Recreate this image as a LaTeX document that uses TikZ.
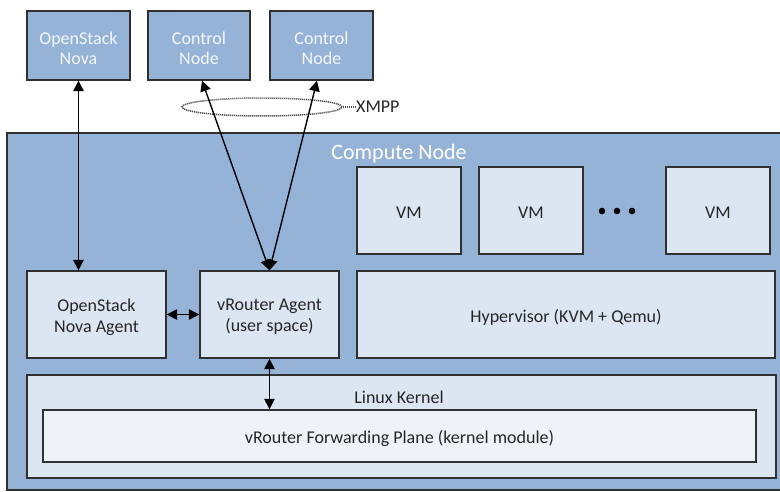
\documentclass[tikz,border=0pt]{standalone}
\usepackage{fontspec}
\setmainfont{Carlito}
\usetikzlibrary{arrows.meta,calc,shapes.geometric}
\definecolor{paneblue}{HTML}{95B3D7}
\definecolor{boxlight}{HTML}{DCE6F2}
\definecolor{boxpale}{HTML}{EEF2F9}
\definecolor{edge}{HTML}{303030}
\definecolor{hinttext}{HTML}{F4F6FA}
\definecolor{ringgray}{HTML}{505050}
\tikzset{
  topbox/.style={draw=edge, line width=1.4pt, fill=paneblue, inner sep=0pt},
  innerbox/.style={draw=edge, line width=1.4pt, fill=boxlight, inner sep=0pt},
  toptext/.style={text=hinttext, align=center, inner sep=0pt, yshift=-2.5pt,
    font=\fontsize{18}{20}\selectfont},
  innertext/.style={text=black!85, align=center, inner sep=0pt, yshift=-2.5pt,
    font=\fontsize{18}{21}\selectfont},
  link/.style={line width=1.4pt, {Triangle[length=10.5pt,width=10.5pt]}-{Triangle[length=10.5pt,width=10.5pt]}},
  ring/.style={draw=ringgray, line width=1.5pt, dash pattern=on 1.2pt off 0.8pt},
}
\begin{document}
\begin{tikzpicture}[x=1pt,y=-1pt]
\useasboundingbox (0,0) rectangle (780,492);
\fill[white] (0,0) rectangle (780,492);

% external services
\node[topbox, minimum width=103pt, minimum height=69pt] (nova) at (78.5,45.5) {};
\node[toptext] (novatxt) at (nova.center) {OpenStack\\Nova};
\node[topbox, minimum width=102pt, minimum height=69pt] (ctlA) at (199,45.5) {};
\node[toptext] (ctlAtxt) at (ctlA.center) {Control\\Node};
\node[topbox, minimum width=103pt, minimum height=69pt] (ctlB) at (321.5,45.5) {};
\node[toptext] (ctlBtxt) at (ctlB.center) {Control\\Node};

% compute node enclosure
\draw[draw=edge, line width=1.4pt, fill=paneblue] (7,133) rectangle (800,490);
\node[text=white, font=\fontsize{22}{24}\selectfont] (cnlabel) at (399,154) {Compute Node};

% guest VMs
\node[innerbox, minimum width=104pt, minimum height=87pt] (vmA) at (409,210.5) {};
\node[innertext] (vmAtxt) at (vmA.center) {VM};
\node[innerbox, minimum width=104pt, minimum height=87pt] (vmB) at (531,210.5) {};
\node[innertext] (vmBtxt) at (vmB.center) {VM};
\node[innerbox, minimum width=104pt, minimum height=87pt] (vmC) at (718,210.5) {};
\node[innertext] (vmCtxt) at (vmC.center) {VM};
\foreach \dx in {602,617,632} \fill[black] (\dx,211) circle (3.3pt);

% user-space row
\node[innerbox, minimum width=139pt, minimum height=87pt] (novaagent) at (96.5,314.5) {};
\node[innertext] (novaagenttxt) at (novaagent.center) {OpenStack\\Nova Agent};
\node[innerbox, minimum width=139pt, minimum height=87pt] (vra) at (269.5,314.5) {};
\node[innertext] (vratxt) at (vra.center) {vRouter Agent\\(user space)};
\node[innerbox, minimum width=418pt, minimum height=87pt] (hyp) at (566,314.5) {};
\node[innertext] (hyptxt) at (hyp.center) {Hypervisor (KVM + Qemu)};

% kernel
\node[innerbox, minimum width=749pt, minimum height=103pt] (kernel) at (401.5,426.5) {};
\node[innertext] (kernlabel) at (399,395) {Linux Kernel};
\node[innerbox, fill=boxpale, minimum width=713pt, minimum height=52pt] (fwd) at (399.5,436) {};
\node[innertext] (fwdtxt) at (fwd.center) {vRouter Forwarding Plane (kernel module)};

% XMPP sessions
\node[ring, ellipse, minimum width=160pt, minimum height=18pt, inner sep=0pt] (xmppring) at (262,107) {};
\node[anchor=west, inner sep=0pt, font=\fontsize{18}{20}\selectfont, text=black!85] (xmpp) at (356,107) {XMPP};
\draw[ring] (xmppring.east) -- (xmpp.west);

% connectors
\draw[link] (nova.south) -- (nova.south |- novaagent.north);
\draw[link] ([xshift=3pt]ctlA.south) -- (vra.north);
\draw[link] ([xshift=-4.5pt]ctlB.south) -- (vra.north);
\draw[link] (novaagent.east) -- (vra.west);
\draw[link] (vra.south) -- (vra.south |- fwd.north);
\end{tikzpicture}
\end{document}
